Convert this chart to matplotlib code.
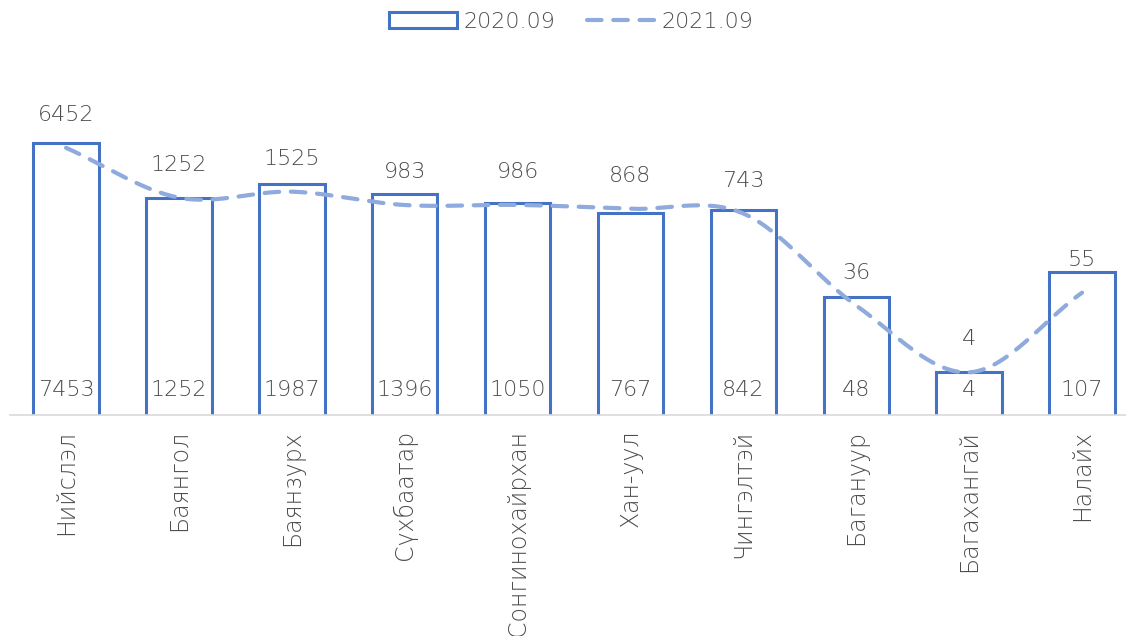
import numpy as np
import matplotlib
matplotlib.use("Agg")
import matplotlib.pyplot as plt
from matplotlib.patches import Patch
from matplotlib.lines import Line2D

categories = ["Нийслэл", "Баянгол", "Баянзурх", "Сүхбаатар", "Сонгинохайрхан",
              "Хан-уул", "Чингэлтэй", "Багануур", "Багахангай", "Налайх"]
values_2020 = [7453, 1252, 1987, 1396, 1050, 767, 842, 48, 4, 107]
values_2021 = [6452, 1252, 1525, 983, 986, 868, 743, 36, 4, 55]
series_names = ["2020.09", "2021.09"]

plt.rcParams['font.family'] = ['DejaVu Sans']
plt.rcParams['font.weight'] = 'light'
TXT = "#4d4d4d"
BAR_C = "#4472C4"
LINE_C = "#8FAADC"
FS = 16

W, H = 1126, 636
fig = plt.figure(figsize=(W / 100, H / 100), dpi=100)
x_left, x_right = 9.6, 1138.5
y_base, y_top = 414.5, 100
ax = fig.add_axes([x_left / W, 1 - y_base / H, (x_right - x_left) / W, (y_base - y_top) / H])
decades = (y_base - y_top) / 70.0
ax.set_yscale('log')
ax.set_ylim(1, 10 ** decades)
n = len(categories)
ax.set_xlim(-0.5, n - 0.5)
x = np.arange(n)

ax.bar(x, values_2020, width=0.58, bottom=0, facecolor='white', edgecolor=BAR_C, linewidth=2.2, zorder=2)

# smoothed line (Catmull-Rom in log space)
lx = x.astype(float)
ly = np.log10(values_2021)
px, py = [], []
P = np.column_stack([lx, ly])
Pext = np.vstack([P[0] - (P[1] - P[0]), P, P[-1] + (P[-1] - P[-2])])
for i in range(1, len(Pext) - 2):
    p0, p1, p2, p3 = Pext[i - 1], Pext[i], Pext[i + 1], Pext[i + 2]
    for t in np.linspace(0, 1, 30, endpoint=False):
        t2, t3 = t * t, t * t * t
        pt = 0.5 * ((2 * p1) + (-p0 + p2) * t + (2 * p0 - 5 * p1 + 4 * p2 - p3) * t2 + (-p0 + 3 * p1 - 3 * p2 + p3) * t3)
        px.append(pt[0]); py.append(pt[1])
px.append(P[-1][0]); py.append(P[-1][1])
ax.plot(px, 10 ** np.array(py), color=LINE_C, lw=3.0, dashes=(3.5, 2.8), solid_capstyle='round',
        dash_capstyle='round', zorder=3)

for xi, v in zip(x, values_2020):
    ax.annotate(str(v), (xi, 1), xytext=(0, 24 * 0.72), textcoords='offset points',
                ha='center', va='center', fontsize=FS, color=TXT, zorder=4)
for xi, v in zip(x, values_2021):
    ax.annotate(str(v), (xi, v), xytext=(0, 33 * 0.72), textcoords='offset points',
                ha='center', va='center', fontsize=FS, color=TXT, zorder=4)

for s in ['top', 'right', 'left']:
    ax.spines[s].set_visible(False)
ax.spines['bottom'].set_color('#D9D9D9')
ax.spines['bottom'].set_linewidth(1.2)
ax.set_yticks([])
ax.yaxis.set_minor_locator(matplotlib.ticker.NullLocator())
ax.set_xticks(x)
ax.set_xticklabels(categories, rotation=90, fontsize=17, color=TXT, va='top', ha='center')
ax.tick_params(axis='x', length=0, pad=11)

handles = [Patch(facecolor='white', edgecolor=BAR_C, linewidth=2.2),
           Line2D([0], [0], color=LINE_C, lw=3.0, dashes=(3.5, 2.8), dash_capstyle='round')]
leg = fig.legend(handles, series_names, loc='center', bbox_to_anchor=(571 / W, 1 - 22 / H), ncol=2,
                 frameon=False, fontsize=FS, handlelength=3.1, handleheight=0.7, handletextpad=0.25,
                 columnspacing=1.45, labelcolor=TXT)

fig.savefig("out.png", dpi=100)
